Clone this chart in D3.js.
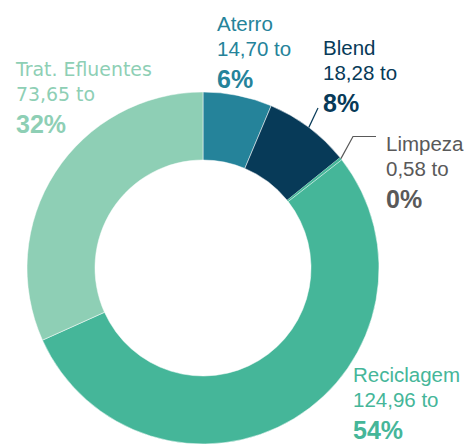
<!DOCTYPE html>
<html>
<head>
<meta charset="utf-8">
<script src="https://cdn.jsdelivr.net/npm/d3@7"></script>
<style>
  body { margin: 0; background: #fff; }
  svg { display: block; }
</style>
</head>
<body>
<div id="chart"></div>
<script>
// data
var categories = ["Aterro", "Blend", "Limpeza", "Reciclagem", "Trat. Efluentes"];
var values = [14.70, 18.28, 0.58, 124.96, 73.65];
var colors = ["#25839a", "#073a58", "#595959", "#45b699", "#8ecfb5"];
// the tiny Limpeza slice blends into Reciclagem in the original
var sliceColors = ["#25839a", "#073a58", "#45b699", "#45b699", "#8ecfb5"];

var width = 472, height = 445;
var cx = 203, cy = 268, outerR = 176, innerR = 108;

// label anchors (left x, baseline of first line)
var labelPos = [
  {x: 217, y: 31, font: "Liberation Sans, Arial, sans-serif", size: 20.5},
  {x: 323, y: 55, font: "Liberation Sans, Arial, sans-serif", size: 20.5},
  {x: 386, y: 151, font: "Liberation Sans, Arial, sans-serif", size: 20.5},
  {x: 353, y: 382, font: "Liberation Sans, Arial, sans-serif", size: 20.5},
  {x: 16, y: 76, font: "DejaVu Sans, Verdana, sans-serif", size: 18.9}
];
// leader line ends (null = no leader)
var leaders = [null, [[318, 108]], [[353, 136.5], [376, 136.5]], null, null];

var svg = d3.select("#chart").append("svg")
  .attr("width", width)
  .attr("height", height);

var g = svg.append("g").attr("transform", "translate(" + cx + "," + cy + ")");

var total = d3.sum(values);
var pie = d3.pie().sort(null).value(function(d) { return d; });
var arcs = pie(values);

var arc = d3.arc().innerRadius(innerR).outerRadius(outerR);

g.selectAll("path.slice")
  .data(arcs)
  .enter().append("path")
  .attr("class", "slice")
  .attr("d", arc)
  .attr("fill", function(d, i) { return sliceColors[i]; })
  .attr("stroke", function(d, i) { return i == 2 ? "none" : "#fff"; })
  .attr("stroke-width", 0.5);

// leader lines
arcs.forEach(function(d, i) {
  if (!leaders[i]) return;
  var a = (d.startAngle + d.endAngle) / 2;
  var pts = [[cx + Math.sin(a) * outerR, cy - Math.cos(a) * outerR]].concat(leaders[i]);
  svg.append("path")
    .attr("d", d3.line()(pts))
    .attr("fill", "none")
    .attr("stroke", colors[i])
    .attr("stroke-width", 1.2);
});

var fmt = function(v) { return d3.format(".2f")(v).replace(".", ","); };

var labels = svg.selectAll("g.label")
  .data(categories)
  .enter().append("g")
  .attr("class", "label")
  .attr("fill", function(d, i) { return colors[i]; });

labels.append("text")
  .attr("x", function(d, i) { return labelPos[i].x; })
  .attr("y", function(d, i) { return labelPos[i].y; })
  .style("font-family", function(d, i) { return labelPos[i].font; })
  .style("font-size", function(d, i) { return labelPos[i].size + "px"; })
  .text(function(d) { return d; });

labels.append("text")
  .attr("x", function(d, i) { return labelPos[i].x; })
  .attr("y", function(d, i) { return labelPos[i].y + 24.5; })
  .style("font-family", function(d, i) { return labelPos[i].font; })
  .style("font-size", function(d, i) { return labelPos[i].size + "px"; })
  .text(function(d, i) { return fmt(values[i]) + " to"; });

labels.append("text")
  .attr("x", function(d, i) { return labelPos[i].x; })
  .attr("y", function(d, i) { return labelPos[i].y + 56.5; })
  .style("font-family", "Liberation Sans, Arial, sans-serif")
  .style("font-size", "25px")
  .style("font-weight", "bold")
  .text(function(d, i) { return Math.round(values[i] / total * 100) + "%"; });
</script>
</body>
</html>
